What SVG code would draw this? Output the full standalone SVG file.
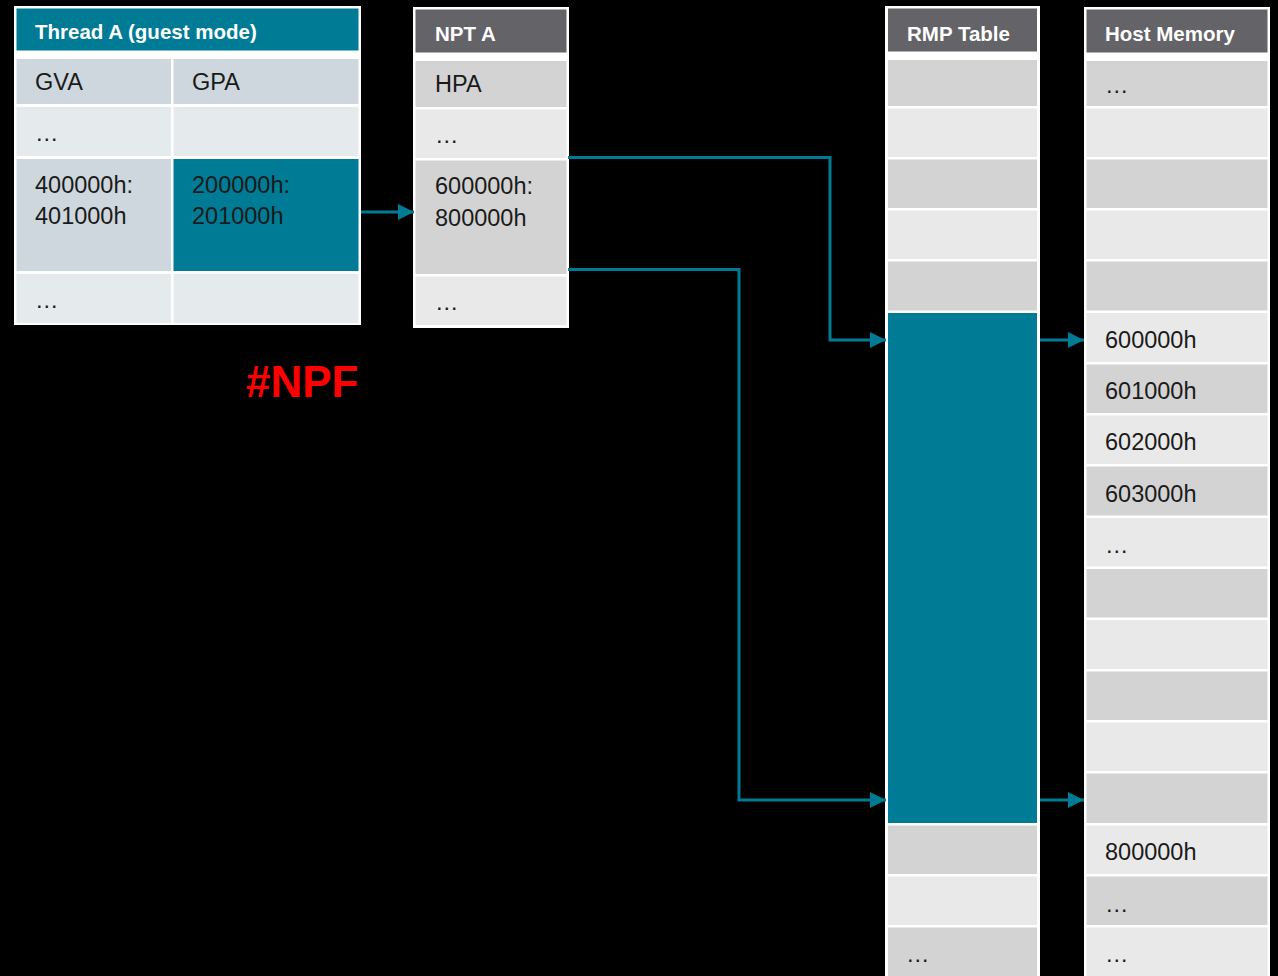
<svg xmlns="http://www.w3.org/2000/svg" width="1278" height="976" viewBox="0 0 1278 976">
  <style>
    .frame { fill: #ffffff; }
    .teal { fill: #007b95; }
    .head { fill: #636368; }
    .blue1 { fill: #cdd7dd; }
    .blue2 { fill: #e5eaed; }
    .dark { fill: #d3d3d3; }
    .light { fill: #e9e9e9; }
    .title { font-family: "Liberation Sans", Arial, sans-serif; font-weight: bold; font-size: 20.5px; fill: #ffffff; }
    .cell { font-family: "Liberation Sans", Arial, sans-serif; font-size: 23.5px; fill: #1a1a1a; }
    .link { fill: none; stroke: #007b95; stroke-width: 3; }
    .fault { font-family: "Liberation Sans", Arial, sans-serif; font-weight: bold; font-size: 44px; fill: #ff0000; }
  </style>
  <defs>
    <marker id="arrow" markerWidth="16" markerHeight="16" refX="16" refY="8" orient="auto" markerUnits="userSpaceOnUse">
      <path d="M0,0 L16,8 L0,16 Z" fill="#007b95"/>
    </marker>
  </defs>
  <rect width="1278" height="976" fill="#000000"/>

  <!-- Guest page table -->
  <g id="thread-a">
    <rect class="frame" x="14" y="6" width="347" height="319"/>
    <rect class="teal" x="16.5" y="8.5" width="342" height="42"/>
    <text class="title" x="35" y="39">Thread A (guest mode)</text>
    <rect class="blue1" x="16.5" y="59" width="154.5" height="45"/>
    <rect class="blue1" x="173.5" y="59" width="185" height="45"/>
    <text class="cell" x="35" y="90">GVA</text>
    <text class="cell" x="192" y="90">GPA</text>
    <rect class="blue2" x="16.5" y="107" width="154.5" height="49"/>
    <rect class="blue2" x="173.5" y="107" width="185" height="49"/>
    <text class="cell" x="35" y="141">…</text>
    <rect class="blue1" x="16.5" y="159" width="154.5" height="112"/>
    <rect class="teal" x="173.5" y="159" width="185" height="112"/>
    <text class="cell" x="35" y="193">400000h:</text>
    <text class="cell" x="35" y="224">401000h</text>
    <text class="cell" x="192" y="193">200000h:</text>
    <text class="cell" x="192" y="224">201000h</text>
    <rect class="blue2" x="16.5" y="274" width="154.5" height="49"/>
    <rect class="blue2" x="173.5" y="274" width="185" height="49"/>
    <text class="cell" x="35" y="308">…</text>
  </g>

  <!-- Nested page table -->
  <g id="npt-a">
    <rect class="frame" x="413" y="7" width="156" height="321"/>
    <rect class="head" x="415.5" y="9.5" width="151" height="43"/>
    <text class="title" x="435" y="41">NPT A</text>
    <rect class="dark" x="415.5" y="61" width="151" height="46"/>
    <text class="cell" x="435" y="92">HPA</text>
    <rect class="light" x="415.5" y="109.5" width="151" height="48.5"/>
    <text class="cell" x="435" y="143">…</text>
    <rect class="dark" x="415.5" y="160.5" width="151" height="113.5"/>
    <text class="cell" x="435" y="194">600000h:</text>
    <text class="cell" x="435" y="226">800000h</text>
    <rect class="light" x="415.5" y="276.5" width="151" height="48.5"/>
    <text class="cell" x="435" y="310">…</text>
  </g>

  <!-- Reverse map table -->
  <g id="rmp-table">
    <rect class="frame" x="885" y="6" width="155" height="970"/>
    <rect class="head" x="888" y="8.5" width="149" height="43"/>
    <text class="title" x="907" y="41">RMP Table</text>
    <rect class="dark" x="888" y="60" width="149" height="46"/>
    <rect class="light" x="888" y="108.5" width="149" height="48.5"/>
    <rect class="dark" x="888" y="159.5" width="149" height="48.5"/>
    <rect class="light" x="888" y="210.5" width="149" height="48.5"/>
    <rect class="dark" x="888" y="261.5" width="149" height="49"/>
    <rect class="teal" x="888" y="313" width="149" height="510"/>
    <rect class="dark" x="888" y="825.5" width="149" height="48.5"/>
    <rect class="light" x="888" y="876.5" width="149" height="48.5"/>
    <rect class="dark" x="888" y="927.5" width="149" height="48.5"/>
    <text class="cell" x="906" y="962">…</text>
  </g>

  <!-- Host physical memory -->
  <g id="host-memory">
    <rect class="frame" x="1084" y="7" width="186" height="969"/>
    <rect class="head" x="1086.5" y="9.5" width="181" height="43"/>
    <text class="title" x="1105" y="41">Host Memory</text>
    <rect class="dark" x="1086.5" y="61" width="181" height="45"/>
    <text class="cell" x="1105" y="93">…</text>
    <rect class="light" x="1086.5" y="108.5" width="181" height="48.5"/>
    <rect class="dark" x="1086.5" y="159.5" width="181" height="48.5"/>
    <rect class="light" x="1086.5" y="210.5" width="181" height="48.5"/>
    <rect class="dark" x="1086.5" y="261.5" width="181" height="49"/>
    <rect class="light" x="1086.5" y="313" width="181" height="49"/>
    <text class="cell" x="1105" y="348">600000h</text>
    <rect class="dark" x="1086.5" y="364.5" width="181" height="48.5"/>
    <text class="cell" x="1105" y="399">601000h</text>
    <rect class="light" x="1086.5" y="415.5" width="181" height="48.5"/>
    <text class="cell" x="1105" y="450">602000h</text>
    <rect class="dark" x="1086.5" y="466.5" width="181" height="49"/>
    <text class="cell" x="1105" y="502">603000h</text>
    <rect class="light" x="1086.5" y="518" width="181" height="48.5"/>
    <text class="cell" x="1105" y="553">…</text>
    <rect class="dark" x="1086.5" y="569" width="181" height="48.5"/>
    <rect class="light" x="1086.5" y="620" width="181" height="49"/>
    <rect class="dark" x="1086.5" y="671.5" width="181" height="48.5"/>
    <rect class="light" x="1086.5" y="722.5" width="181" height="48.5"/>
    <rect class="dark" x="1086.5" y="773.5" width="181" height="49.5"/>
    <rect class="light" x="1086.5" y="825.5" width="181" height="48.5"/>
    <text class="cell" x="1105" y="860">800000h</text>
    <rect class="dark" x="1086.5" y="876.5" width="181" height="48.5"/>
    <text class="cell" x="1105" y="912">…</text>
    <rect class="light" x="1086.5" y="927.5" width="181" height="48.5"/>
    <text class="cell" x="1105" y="962">…</text>
  </g>

  <g id="npf-label">
    <text class="fault" x="246" y="397">#NPF</text>
  </g>

  <!-- Translation links -->
  <g id="connectors">
    <path class="link" d="M361,212 H414" marker-end="url(#arrow)"/>
    <path class="link" d="M568,157.5 H830 V340 H886" marker-end="url(#arrow)"/>
    <path class="link" d="M568,269.5 H739 V800 H886" marker-end="url(#arrow)"/>
    <path class="link" d="M1040,340 H1084" marker-end="url(#arrow)"/>
    <path class="link" d="M1040,800 H1084" marker-end="url(#arrow)"/>
  </g>
</svg>
